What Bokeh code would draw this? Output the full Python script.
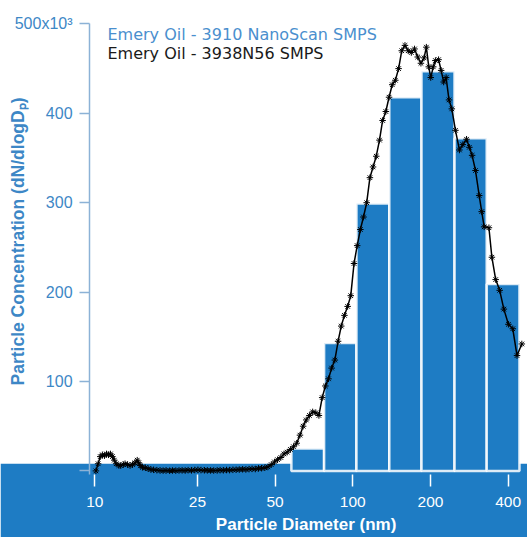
import math
from bokeh.plotting import figure
from bokeh.models import (Range1d, FixedTicker, BoxAnnotation, Label,
                          ColumnDataSource, PrintfTickFormatter)
from bokeh.embed import file_html
from bokeh.resources import INLINE

# ---------------- data ----------------
# NanoScan SMPS channels (bin edges in nm) and concentrations (x10^3 dN/dlogDp)
bin_edges = [57.8, 77.4, 103.3, 138.5, 184.6, 247.9, 330.4, 442.6]
nanoscan_values = [25, 143, 299, 418, 447, 372, 209]

# 3938N56 SMPS scan (diameter nm, concentration x10^3)
smps_diameter = [10.1, 10.3, 10.5, 10.7, 10.9, 11.1, 11.3, 11.5, 11.7, 11.9,
                 12.1, 12.4, 12.6, 12.9, 13.1, 13.4, 13.7, 14.0, 14.3, 14.6,
                 14.8, 15.0, 15.3, 15.7, 16.1, 16.5, 16.9, 17.4, 17.9, 18.4,
                 18.9, 19.5, 20.0, 20.6, 21.2, 21.8, 22.4, 23.0, 23.7, 24.4,
                 25.1, 25.8, 26.6, 27.3, 28.1, 28.9, 29.8, 30.6, 31.5, 32.4,
                 33.3, 34.3, 35.3, 36.3, 37.4, 38.5, 39.6, 40.7, 41.9, 43.1,
                 44.3, 45.6, 46.9, 48.3, 49.7, 51.1, 52.6, 54.1, 55.7, 57.3,
                 58.9, 60.6, 62.4, 64.2, 66.0, 67.9, 69.9, 71.9, 73.9, 76.1,
                 78.3, 80.5, 82.8, 85.2, 87.7, 90.2, 92.8, 95.5, 98.2, 101.1,
                 104.0, 107.0, 110.0, 113.2, 116.5, 119.8, 123.3, 126.9, 130.5, 134.3,
                 138.2, 142.2, 146.2, 150.5, 154.8, 159.3, 163.9, 168.6, 173.5, 178.5,
                 183.7, 188.9, 192.8, 197.0, 200.5, 205.0, 209.0, 215.0, 220.0, 225.0,
                 230.0, 236.0, 242.0, 250.0, 259.0, 267.0, 276.0, 283.0, 290.0, 299.0,
                 309.0, 316.0, 323.0, 337.0, 346.0, 358.0, 371.0, 385.0, 401.0, 417.0,
                 433.0, 452.0]
smps_values = [0, 8, 16, 18, 17, 19, 18, 19, 16, 12,
               8, 6, 6, 7, 8, 7, 6, 7, 9, 12,
               9, 6, 4, 3.5, 2.5, 1.5, 1.2, 0.8, 0.5, 0.3,
               0.5, 0.2, 0.4, 0.3, 0.5, 0.6, 0.4, 0.8, 0.6, 1.0,
               1.2, 0.9, 0.7, 0.6, 0.5, 0.4, 0.5, 0.8, 0.7, 1.0,
               0.9, 1.2, 1.3, 1.5, 1.8, 1.6, 2.0, 2.3, 2.1, 2.8,
               3.0, 3.5, 4.5, 7, 10, 12.5, 15, 19, 21, 24,
               27, 31, 40, 50, 57, 62, 66, 65, 62, 82,
               95, 103, 115, 124, 145, 162, 174, 184, 196, 232,
               252, 270, 284, 300, 328, 340, 352, 370, 392, 402,
               418, 432, 437, 450, 470, 476, 470, 468, 472, 463,
               456, 462, 474, 452, 440, 452, 459, 460, 448, 435,
               440, 415, 405, 381, 359, 365, 371, 362, 353, 336,
               308, 290, 273, 272, 239, 214, 202, 181, 164, 159,
               129, 142]

y_ticks = [0, 100, 200, 300, 400, 500]
y_tick_labels = ["", "100", "200", "300", "400", "500x10\u00b3"]
x_ticks = [10, 25, 50, 100, 200, 400]

legend_nanoscan = "Emery Oil - 3910 NanoScan SMPS"
legend_smps = "Emery Oil - 3938N56 SMPS"
x_title = "Particle Diameter (nm)"
y_title = "Particle Concentration (dN/dlogD\u209a)"

# ---------------- style ----------------
BLUE = "#1e7cc4"
TEXT_BLUE = "#3d87c6"
LEGEND_BLUE = "#4a8fce"
AXIS_BLUE = "#8cb2d6"
FONT = "Liberation Sans"

p = figure(width=527, height=537, x_axis_type="log",
           x_range=Range1d(4.31, 475.5), y_range=Range1d(-74.5, 526.2),
           output_backend="svg", toolbar_location=None)
p.min_border = 0
p.border_fill_color = BLUE
p.background_fill_color = "white"
p.outline_line_color = None
p.grid.visible = False

# blue band at the bottom of the chart
band = BoxAnnotation(top=8, fill_color=BLUE, fill_alpha=1.0,
                     line_alpha=0, level="underlay")
p.add_layout(band)

# NanoScan bars
bars = ColumnDataSource(dict(left=bin_edges[:-1], right=bin_edges[1:],
                             top=nanoscan_values))
p.quad(left="left", right="right", bottom=0, top="top", source=bars,
       fill_color=BLUE, line_color="white", line_alpha=0.85, line_width=2.5)

# SMPS line
smps = ColumnDataSource(dict(d=smps_diameter, v=smps_values))
p.line("d", "v", source=smps, line_color="black", line_width=1.5)
p.scatter("d", "v", source=smps, marker="asterisk", size=6.5,
          line_color="black", line_width=1)

# x axis, drawn inside the blue band
xa = p.xaxis[0]
xa.fixed_location = -4.0
xa.ticker = FixedTicker(ticks=x_ticks)
xa.formatter = PrintfTickFormatter(format="%d")
xa.axis_line_color = None
xa.major_tick_line_color = "white"
xa.major_tick_line_width = 1.5
xa.major_tick_out = 12
xa.major_tick_in = 0
xa.minor_tick_line_color = None
xa.major_label_standoff = 11
xa.major_label_text_color = "white"
xa.major_label_text_font = FONT
xa.major_label_text_font_size = "15.5px"

# y axis, drawn at the left edge of the data area
ya = p.yaxis[0]
ya.fixed_location = 9.54
ya.bounds = (-4.0, 500)
ya.ticker = FixedTicker(ticks=y_ticks)
ya.formatter = PrintfTickFormatter(format="%d")
ya.major_label_overrides = {t: l for t, l in zip(y_ticks, y_tick_labels)}
ya.axis_line_color = AXIS_BLUE
ya.axis_line_width = 1.5
ya.major_tick_line_color = AXIS_BLUE
ya.major_tick_line_width = 1.5
ya.major_tick_out = 10
ya.major_tick_in = 0
ya.minor_tick_line_color = None
ya.major_label_standoff = 7
ya.major_label_text_color = TEXT_BLUE
ya.major_label_text_font = FONT
ya.major_label_text_font_size = "16px"

# titles
p.add_layout(Label(x=5.02, y=256.6, text=y_title, angle=math.pi / 2,
                   text_align="center", text_baseline="middle",
                   text_font=FONT, text_font_style="bold",
                   text_font_size="17.5px", text_color=TEXT_BLUE))
p.add_layout(Label(x=65.9, y=-60.5, text=x_title,
                   text_align="center", text_baseline="middle",
                   text_font=FONT, text_font_style="bold",
                   text_font_size="17px", text_color="white"))

# legend texts
p.add_layout(Label(x=11.2, y=487.8, text=legend_nanoscan,
                   text_baseline="alphabetic", text_font="DejaVu Sans",
                   text_font_size="16px", text_color=LEGEND_BLUE))
p.add_layout(Label(x=11.2, y=466.6, text=legend_smps,
                   text_baseline="alphabetic", text_font="DejaVu Sans",
                   text_font_size="16px", text_color="#1a1a1a"))

open("out.html", "w").write(file_html(p, INLINE))
